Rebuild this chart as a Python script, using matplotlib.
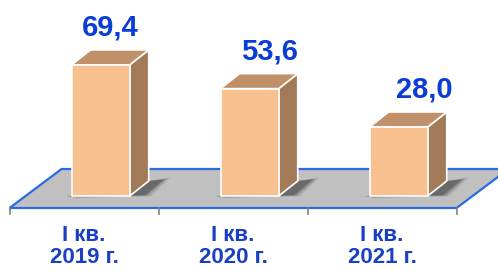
import matplotlib
matplotlib.use("Agg")
import matplotlib.pyplot as plt
from matplotlib.patches import Polygon

categories = ["I кв.\n2019 г.", "I кв.\n2020 г.", "I кв.\n2021 г."]
values = [69.4, 53.6, 28.0]
value_labels = ["69,4", "53,6", "28,0"]

# style / layout
BASE = -18.0          # front bottom of bars (value units)
FLOOR_FRONT = -26.0
FLOOR_DY = 26.0
FLOOR_DX = 0.349
BAR_W = 0.39
BAR_DX = 0.128
BAR_DY = 10.0
FRONT_SHIFT = 0.111   # bar front face shift from floor front (depth)
label_nudge = [0.0, 0.07, 0.11]

c_front = "#F9C190"
c_top = "#C0906A"
c_side = "#A27A58"
c_floor = "#C0C0C0"
c_edge = "#2B6BE0"

fig = plt.figure(figsize=(4.98, 2.71), dpi=100)
ax = fig.add_axes([0, 0, 1, 1])
ax.set_xlim(-0.564, 2.778)
ax.set_ylim(-68, 112.67)
ax.axis("off")

n = len(categories)
# floor
x0, x1 = -0.5, n - 0.5
floor = [(x0, FLOOR_FRONT), (x1, FLOOR_FRONT), (x1 + FLOOR_DX, FLOOR_FRONT + FLOOR_DY),
         (x0 + FLOOR_DX, FLOOR_FRONT + FLOOR_DY)]
ax.add_patch(Polygon(floor, closed=True, facecolor=c_floor, edgecolor=c_edge, lw=1.6, zorder=1))
# ticks
for i in range(n + 1):
    xt = -0.5 + i
    ax.plot([xt, xt], [FLOOR_FRONT, FLOOR_FRONT - 4], color="#808080", lw=1.2, zorder=1)

for i, v in enumerate(values):
    xl = i - BAR_W / 2 + FRONT_SHIFT
    xr = xl + BAR_W
    # soft shadow
    for k, a in enumerate([0.08, 0.10, 0.14, 0.2, 0.28]):
        grow = (4 - k) * 0.012
        sh = [(xr - 0.02, BASE + 1), (xr + BAR_DX, BASE + BAR_DY),
              (xr + BAR_DX + 0.10 + grow, BASE + BAR_DY + 1 + grow * 30),
              (xr + 0.10 + grow, BASE + 0.5 - grow * 15),
              (xl + 0.03, BASE - 0.5 - grow * 20), (xl - 0.02 - grow * 0.5, BASE)]
        ax.add_patch(Polygon(sh, closed=True, facecolor="#303030", edgecolor="none", alpha=a, zorder=2))
    front = [(xl, BASE), (xr, BASE), (xr, v), (xl, v)]
    top = [(xl, v), (xr, v), (xr + BAR_DX, v + BAR_DY), (xl + BAR_DX, v + BAR_DY)]
    side = [(xr, BASE), (xr + BAR_DX, BASE + BAR_DY), (xr + BAR_DX, v + BAR_DY), (xr, v)]
    for poly, col in [(side, c_side), (top, c_top), (front, c_front)]:
        ax.add_patch(Polygon(poly, closed=True, facecolor=col, edgecolor="white", lw=1.2,
                             joinstyle="round", zorder=3))
    ax.text((xl + xr + BAR_DX) / 2 + label_nudge[i], v + BAR_DY + 9.5, value_labels[i],
            ha="center", va="baseline", fontsize=21, fontweight="bold",
            color="#0A3CD6", family="Liberation Sans", zorder=5)
    ax.text(i, FLOOR_FRONT - 11, categories[i], ha="center", va="top", fontsize=16,
            fontweight="bold", color="#1A3FC4", family="Liberation Sans",
            linespacing=1.08, zorder=5)

fig.savefig("out.png", dpi=100)
